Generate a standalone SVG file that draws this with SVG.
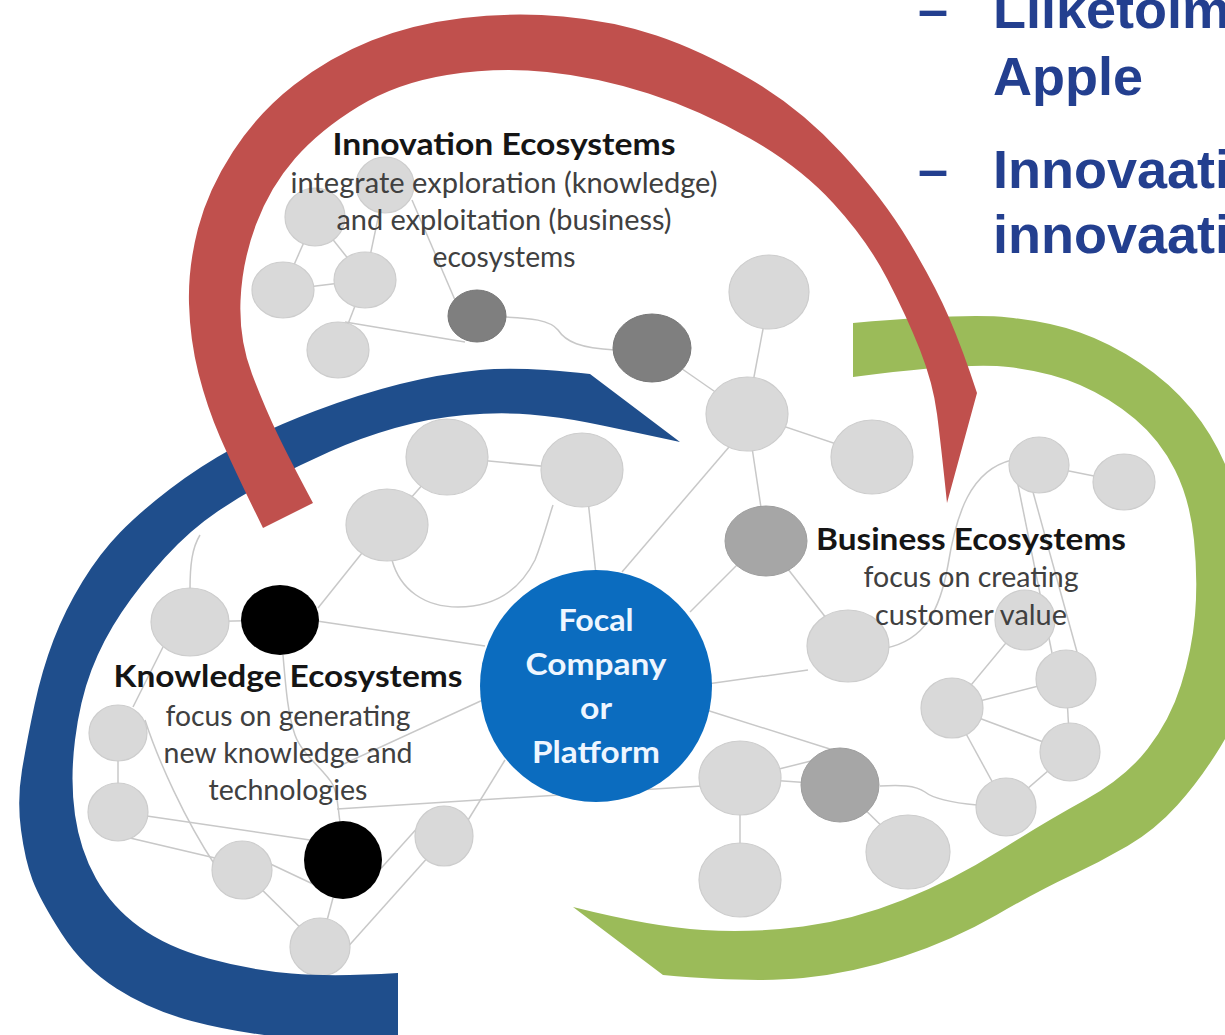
<svg xmlns="http://www.w3.org/2000/svg" width="1225" height="1035" viewBox="0 0 1225 1035">
  <style>
    .edge { fill: none; stroke: #c8c8c8; stroke-width: 1.5; }
    .n { fill: #d9d9d9; stroke: #cdcdcd; stroke-width: 1.2; }
    .dk { fill: #7f7f7f; stroke: #777777; stroke-width: 1; }
    .md { fill: #a6a6a6; stroke: #9d9d9d; stroke-width: 1; }
    .bk { fill: #000000; }
    .title { font-family: Lato, "Liberation Sans", sans-serif; font-weight: bold; font-size: 31px; fill: #151515; text-anchor: middle; }
    .sub { font-family: Lato, "Liberation Sans", sans-serif; font-size: 28px; fill: #404040; text-anchor: middle; }
    .focal-t { font-family: Lato, "Liberation Sans", sans-serif; font-weight: bold; font-size: 31px; fill: #eef6ff; text-anchor: middle; }
    .fi { font-family: "Liberation Sans", Arial, sans-serif; font-weight: bold; font-size: 54px; fill: #233f8f; }
  </style>

  <rect width="1225" height="1035" fill="#ffffff"/>

  <!-- thin grey links between the network nodes -->
  <g id="connectors">
    <line class="edge" x1="385" y1="185" x2="365" y2="280"/>
    <line class="edge" x1="412" y1="200" x2="455" y2="300"/>
    <line class="edge" x1="315" y1="217" x2="283" y2="290"/>
    <line class="edge" x1="315" y1="217" x2="365" y2="280"/>
    <line class="edge" x1="283" y1="290" x2="365" y2="280"/>
    <line class="edge" x1="365" y1="280" x2="338" y2="350"/>
    <line class="edge" x1="345" y1="322" x2="465" y2="342"/>
    <path class="edge" d="M505,317 C530,318 550,320 558,330 C566,342 580,348 615,350"/>
    <line class="edge" x1="652" y1="348" x2="747" y2="414"/>
    <line class="edge" x1="770" y1="292" x2="747" y2="414"/>
    <line class="edge" x1="747" y1="414" x2="872" y2="456"/>
    <line class="edge" x1="747" y1="414" x2="766" y2="541"/>
    <line class="edge" x1="735" y1="440" x2="622" y2="572"/>
    <line class="edge" x1="740" y1="562" x2="690" y2="612"/>
    <line class="edge" x1="766" y1="541" x2="848" y2="646"/>
    <line class="edge" x1="700" y1="685" x2="808" y2="670"/>
    <path class="edge" d="M886,648 C925,640 940,610 948,565 C956,515 970,470 1012,460"/>
    <line class="edge" x1="1039" y1="465" x2="1124" y2="482"/>
    <line class="edge" x1="1017" y1="480" x2="1052" y2="653"/>
    <line class="edge" x1="1033" y1="492" x2="1077" y2="652"/>
    <line class="edge" x1="1025" y1="620" x2="952" y2="708"/>
    <line class="edge" x1="952" y1="708" x2="1066" y2="679"/>
    <line class="edge" x1="952" y1="708" x2="1070" y2="752"/>
    <line class="edge" x1="952" y1="708" x2="1006" y2="807"/>
    <line class="edge" x1="1066" y1="679" x2="1070" y2="752"/>
    <line class="edge" x1="1070" y1="752" x2="1006" y2="807"/>
    <path class="edge" d="M977,805 C955,803 935,800 925,792 C915,785 900,785 880,786"/>
    <line class="edge" x1="700" y1="708" x2="833" y2="750"/>
    <line class="edge" x1="740" y1="778" x2="840" y2="785"/>
    <line class="edge" x1="775" y1="770" x2="815" y2="760"/>
    <line class="edge" x1="740" y1="778" x2="740" y2="880"/>
    <line class="edge" x1="840" y1="785" x2="908" y2="852"/>
    <line class="edge" x1="337" y1="809" x2="702" y2="786"/>
    <path class="edge" d="M283,655 C286,690 288,715 295,735 C302,755 325,770 333,785 C338,795 338,810 340,822"/>
    <line class="edge" x1="485" y1="699" x2="335" y2="768"/>
    <line class="edge" x1="310" y1="620" x2="485" y2="646"/>
    <line class="edge" x1="318" y1="608" x2="362" y2="553"/>
    <line class="edge" x1="190" y1="622" x2="280" y2="620"/>
    <path class="edge" d="M190,590 C190,565 192,548 200,535"/>
    <line class="edge" x1="163" y1="647" x2="133" y2="707"/>
    <path class="edge" d="M145,720 C158,760 185,820 215,865"/>
    <line class="edge" x1="118" y1="733" x2="118" y2="812"/>
    <line class="edge" x1="140" y1="815" x2="310" y2="840"/>
    <line class="edge" x1="130" y1="838" x2="215" y2="858"/>
    <line class="edge" x1="262" y1="860" x2="315" y2="885"/>
    <line class="edge" x1="242" y1="870" x2="320" y2="947"/>
    <line class="edge" x1="320" y1="947" x2="343" y2="860"/>
    <line class="edge" x1="345" y1="950" x2="430" y2="855"/>
    <line class="edge" x1="375" y1="875" x2="420" y2="825"/>
    <line class="edge" x1="465" y1="825" x2="505" y2="760"/>
    <line class="edge" x1="447" y1="457" x2="582" y2="470"/>
    <line class="edge" x1="447" y1="457" x2="387" y2="525"/>
    <path class="edge" d="M392,560 C400,590 425,607 458,607 C495,607 520,590 535,560 C543,540 548,520 553,505"/>
    <line class="edge" x1="588" y1="500" x2="596" y2="575"/>
  </g>

  <!-- network nodes -->
  <g id="node-a"><ellipse class="n" cx="385" cy="185" rx="29" ry="28"/></g>
  <g id="node-b"><ellipse class="n" cx="315" cy="217" rx="30" ry="29"/></g>
  <g id="node-c"><ellipse class="n" cx="283" cy="290" rx="31" ry="28"/></g>
  <g id="node-d"><ellipse class="n" cx="365" cy="280" rx="31" ry="28"/></g>
  <g id="node-e"><ellipse class="n" cx="338" cy="350" rx="31" ry="28"/></g>
  <g id="node-f"><ellipse class="dk" cx="477" cy="316" rx="29" ry="26"/></g>
  <g id="node-g"><ellipse class="dk" cx="652" cy="348" rx="39" ry="34"/></g>
  <g id="node-h"><ellipse class="n" cx="447" cy="457" rx="41" ry="38"/></g>
  <g id="node-i"><ellipse class="n" cx="582" cy="470" rx="41" ry="37"/></g>
  <g id="node-j"><ellipse class="n" cx="387" cy="525" rx="41" ry="36"/></g>
  <g id="node-u"><ellipse class="n" cx="769" cy="292" rx="40" ry="37"/></g>
  <g id="node-t"><ellipse class="n" cx="747" cy="414" rx="41" ry="37"/></g>
  <g id="node-v"><ellipse class="n" cx="872" cy="457" rx="41" ry="37"/></g>
  <g id="node-w"><ellipse class="md" cx="766" cy="541" rx="41" ry="35"/></g>
  <g id="node-x"><ellipse class="n" cx="848" cy="646" rx="41" ry="36"/></g>
  <g id="node-y"><ellipse class="n" cx="1039" cy="465" rx="30" ry="28"/></g>
  <g id="node-z"><ellipse class="n" cx="1124" cy="482" rx="31" ry="28"/></g>
  <g id="node-bb"><ellipse class="n" cx="1025" cy="620" rx="30" ry="30"/></g>
  <g id="node-aa"><ellipse class="n" cx="1066" cy="679" rx="30" ry="29"/></g>
  <g id="node-cc"><ellipse class="n" cx="952" cy="708" rx="31" ry="30"/></g>
  <g id="node-dd"><ellipse class="n" cx="1070" cy="752" rx="30" ry="29"/></g>
  <g id="node-ee"><ellipse class="n" cx="1006" cy="807" rx="30" ry="29"/></g>
  <g id="node-gg"><ellipse class="n" cx="740" cy="778" rx="41" ry="37"/></g>
  <g id="node-ff"><ellipse class="md" cx="840" cy="785" rx="39" ry="37"/></g>
  <g id="node-hh"><ellipse class="n" cx="740" cy="880" rx="41" ry="37"/></g>
  <g id="node-ii"><ellipse class="n" cx="908" cy="852" rx="42" ry="37"/></g>
  <g id="node-l"><ellipse class="n" cx="190" cy="622" rx="39" ry="34"/></g>
  <g id="node-m"><ellipse class="bk" cx="280" cy="620" rx="39" ry="35"/></g>
  <g id="node-n"><ellipse class="n" cx="118" cy="733" rx="29" ry="28"/></g>
  <g id="node-o"><ellipse class="n" cx="118" cy="812" rx="30" ry="29"/></g>
  <g id="node-r"><ellipse class="n" cx="242" cy="870" rx="30" ry="29"/></g>
  <g id="node-s"><ellipse class="n" cx="320" cy="947" rx="30" ry="29"/></g>
  <g id="node-q"><ellipse class="bk" cx="343" cy="860" rx="39" ry="39"/></g>
  <g id="node-p"><ellipse class="n" cx="444" cy="836" rx="29" ry="30"/></g>

  <!-- ecosystem bands -->
  <g id="band-business">
    <path fill="#9bbb59" d="M853,323 Q967,313 1008.5,317.5 Q1050,322 1080,332.5 Q1110,343 1140,363 Q1170,383 1191.5,409 Q1213,435 1226.5,467.5 Q1240,500 1247.5,540 Q1255,580 1256.5,615 Q1258,650 1249,682.5 Q1240,715 1220,747.5 Q1200,780 1177.5,805 Q1155,830 1127.5,846 Q1100,862 1070,876 Q1040,890 996.5,915 Q953,940 903,956.5 Q853,973 803,978 Q753,983 663,975 L573,907 Q653,927 703,930 Q753,933 803,926.5 Q853,920 903,900 Q953,880 999,851 Q1045,822 1085,800 Q1125,778 1147.5,749 Q1170,720 1181,685 Q1192,650 1195,615 Q1198,580 1194,540 Q1190,500 1175,470 Q1160,440 1135,419 Q1110,398 1080,385 Q1050,372 1008.5,367 Q967,362 853,377 Z"/>
  </g>
  <g id="band-knowledge">
    <path fill="#1f4e8c" d="M680,442 L590,374 Q520,366 480,370 Q440,374 400,384 Q360,394 315,411 Q270,428 235,447 Q200,466 170,489 Q140,512 120,532.5 Q100,553 82.5,581.5 Q65,610 53.5,640 Q42,670 34.5,705 Q27,740 22,770 Q17,800 21,830 Q25,860 32.5,880 Q40,900 61.5,933.5 Q83,967 116.5,988.5 Q150,1010 191.5,1021 Q233,1032 281.5,1037 Q330,1042 398,1045 L398,973 Q333,977 291.5,973.5 Q250,970 208.5,958.5 Q167,947 139.5,927 Q112,907 96,878.5 Q80,850 75,815 Q70,780 75,740 Q80,700 91.5,670 Q103,640 121.5,612.5 Q140,585 165,557.5 Q190,530 217.5,511.5 Q245,493 272.5,479 Q300,465 330,451.5 Q360,438 395,428 Q430,418 465,415 Q500,412 530,414.5 Q560,417 587.5,422.5 Q615,428 680,442 Z"/>
  </g>
  <g id="band-innovation">
    <path fill="#c0504d" d="M263,528 Q233,467 220,437 Q207,407 198.5,373.5 Q190,340 189,303.5 Q188,267 198,228.5 Q208,190 233,151.5 Q258,113 294,85 Q330,57 371.5,40.5 Q413,24 463,18 Q513,12 563,16.5 Q613,21 656.5,35.5 Q700,50 750,79 Q800,108 841.5,153 Q883,198 909,241.5 Q935,285 949,317.5 Q963,350 977,393 L947,503 Q941,445 937,414 Q933,383 920,350 Q907,317 887,278.5 Q867,240 833.5,203.5 Q800,167 750,138.5 Q700,110 648.5,93.5 Q597,77 547,72 Q497,67 447,75 Q397,83 358.5,106.5 Q320,130 295,158.5 Q270,187 256,224.5 Q242,262 240.5,301 Q239,340 252,374 Q265,408 277.5,434 Q290,460 313,503 Z"/>
  </g>

  <!-- central hub -->
  <g id="node-focal">
    <circle cx="596" cy="686" r="116" fill="#0b6cbf"/>
    <text class="focal-t" x="596" y="631" textLength="75" lengthAdjust="spacingAndGlyphs">Focal</text>
    <text class="focal-t" x="596" y="675" textLength="141" lengthAdjust="spacingAndGlyphs">Company</text>
    <text class="focal-t" x="596" y="719" textLength="32" lengthAdjust="spacingAndGlyphs">or</text>
    <text class="focal-t" x="596" y="763" textLength="128" lengthAdjust="spacingAndGlyphs">Platform</text>
  </g>

  <!-- ecosystem captions -->
  <g id="label-innovation">
    <text class="title" x="504" y="155" textLength="343" lengthAdjust="spacingAndGlyphs">Innovation Ecosystems</text>
    <text class="sub" x="504" y="193" textLength="427" lengthAdjust="spacingAndGlyphs">integrate exploration (knowledge)</text>
    <text class="sub" x="504" y="230" textLength="335" lengthAdjust="spacingAndGlyphs">and exploitation (business)</text>
    <text class="sub" x="504" y="267" textLength="143" lengthAdjust="spacingAndGlyphs">ecosystems</text>
  </g>
  <g id="label-knowledge">
    <text class="title" x="288" y="687" textLength="349" lengthAdjust="spacingAndGlyphs">Knowledge Ecosystems</text>
    <text class="sub" x="288" y="726" textLength="245" lengthAdjust="spacingAndGlyphs">focus on generating</text>
    <text class="sub" x="288" y="763" textLength="249" lengthAdjust="spacingAndGlyphs">new knowledge and</text>
    <text class="sub" x="288" y="800" textLength="159" lengthAdjust="spacingAndGlyphs">technologies</text>
  </g>
  <g id="label-business">
    <text class="title" x="971" y="550" textLength="310" lengthAdjust="spacingAndGlyphs">Business Ecosystems</text>
    <text class="sub" x="971" y="587" textLength="215" lengthAdjust="spacingAndGlyphs">focus on creating</text>
    <text class="sub" x="971" y="625" textLength="192" lengthAdjust="spacingAndGlyphs">customer value</text>
  </g>

  <!-- slide bullet text -->
  <g id="bullets">
    <text class="fi" x="918" y="28">–</text>
    <text class="fi" x="993" y="28">Liiketoim</text>
    <text class="fi" x="993" y="95">Apple</text>
    <text class="fi" x="918" y="188">–</text>
    <text class="fi" x="993" y="188">Innovaati</text>
    <text class="fi" x="993" y="253">innovaati</text>
  </g>
</svg>
